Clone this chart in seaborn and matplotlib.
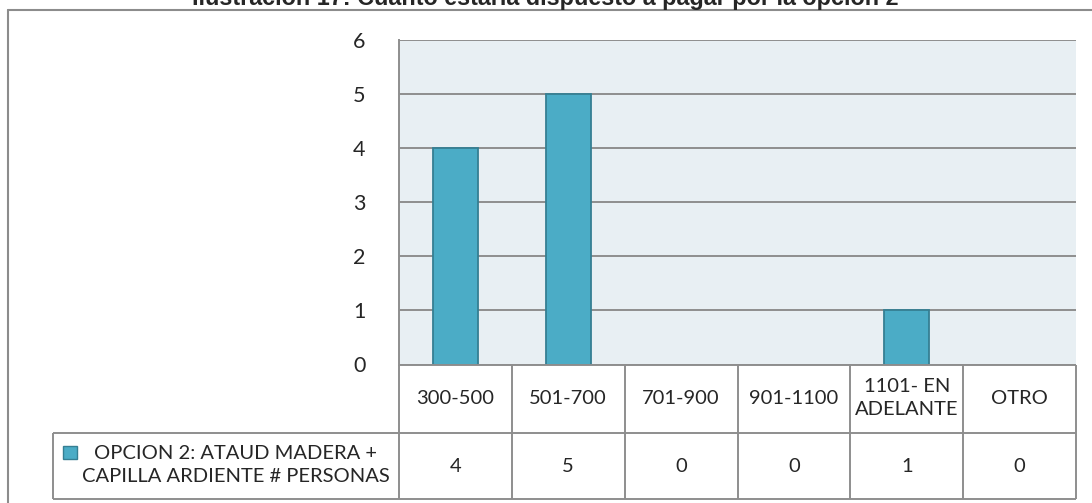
import matplotlib
matplotlib.use("Agg")
import matplotlib.pyplot as plt
import matplotlib.transforms as mtransforms
from matplotlib.lines import Line2D
from matplotlib.patches import Rectangle
import pandas as pd
import seaborn as sns

# data
categories = ["300-500", "501-700", "701-900", "901-1100", "1101- EN\nADELANTE", "OTRO"]
values = [4, 5, 0, 0, 1, 0]
series_name = "OPCION 2: ATAUD MADERA +\nCAPILLA ARDIENTE # PERSONAS"
title = "Ilustración 17: Cuánto estaría dispuesto a pagar por la opción 2"
yticks = [0, 1, 2, 3, 4, 5, 6]

BAR = "#4BACC6"
EDGE = "#357F93"
GRID = "#8E8E8E"
BG = "#E8EFF3"
FS = 14.5

sns.set_style("white")
plt.rcParams["font.family"] = ["Lato", "DejaVu Sans"]

W, H = 1092, 503
fig = plt.figure(figsize=(W / 100, H / 100), dpi=100)


def fy(py):
    return 1 - py / H


ax = fig.add_axes([399 / W, fy(364.5), 677 / W, 324.5 / H])

df = pd.DataFrame({"rango": categories, "n": values})
sns.barplot(data=df, x="rango", y="n", color=BAR, saturation=1, width=0.4,
            edgecolor=EDGE, linewidth=1.3, ax=ax)
for p in ax.patches:
    if p.get_height() == 0:
        p.set_linewidth(0)

ax.set_xlim(-0.5, len(categories) - 0.5)
ax.set_ylim(0, 6)
ax.set_yticks(yticks)
ax.set_facecolor(BG)
ax.yaxis.grid(True, color=GRID, lw=1.4)
ax.set_axisbelow(True)
for s in ["top", "right", "bottom"]:
    ax.spines[s].set_visible(False)
ax.spines["left"].set_color(GRID)
ax.spines["left"].set_linewidth(1.4)
ax.set_xticks([])
ax.set_xlabel("")
ax.set_ylabel("")
ax.tick_params(axis="y", length=0, pad=24, labelsize=FS + 1)

# data table under the axis
n = len(categories)
tr = mtransforms.blended_transform_factory(ax.transData, fig.transFigure)
row_top, row_mid, row_bot = fy(364.5), fy(433), fy(499)
lk = dict(color=GRID, lw=1.4, solid_capstyle="butt")
x0_fig = 53 / W
x1_fig = ax.get_position().x1
fig.add_artist(Line2D([-0.5, n - 0.5], [row_top, row_top], transform=tr, **lk))
for yy in [row_mid, row_bot]:
    fig.add_artist(Line2D([x0_fig, x1_fig], [yy, yy], transform=fig.transFigure, **lk))
fig.add_artist(Line2D([x0_fig, x0_fig], [row_mid, row_bot], transform=fig.transFigure, **lk))
for i in range(n + 1):
    fig.add_artist(Line2D([i - 0.5, i - 0.5], [row_top, row_bot], transform=tr, **lk))

for i, (c, v) in enumerate(zip(categories, values)):
    ax.text(i, fy(398), c, transform=tr, ha="center", va="center",
            fontsize=FS, linespacing=1.45)
    ax.text(i, fy(466), str(v), transform=tr, ha="center", va="center", fontsize=FS)

fig.add_artist(Rectangle((63 / W, fy(459)), 14 / W, 13 / H, transform=fig.transFigure,
                         facecolor=BAR, edgecolor=EDGE, lw=1))
fig.text(236 / W, fy(465), series_name, ha="center", va="center", fontsize=FS,
         linespacing=1.45)

# outer frame
fk = dict(color="#8C8C8C", lw=1.5, transform=fig.transFigure)
fig.add_artist(Line2D([8 / W, 8 / W], [fy(10), 0], **fk))
fig.add_artist(Line2D([8 / W, 1], [fy(10), fy(10)], **fk))

fig.text(545 / W, fy(5), title, ha="center", va="baseline", fontsize=16.8,
         fontweight="bold", family=["Liberation Sans", "DejaVu Sans"])

fig.savefig("out.png", dpi=100)
